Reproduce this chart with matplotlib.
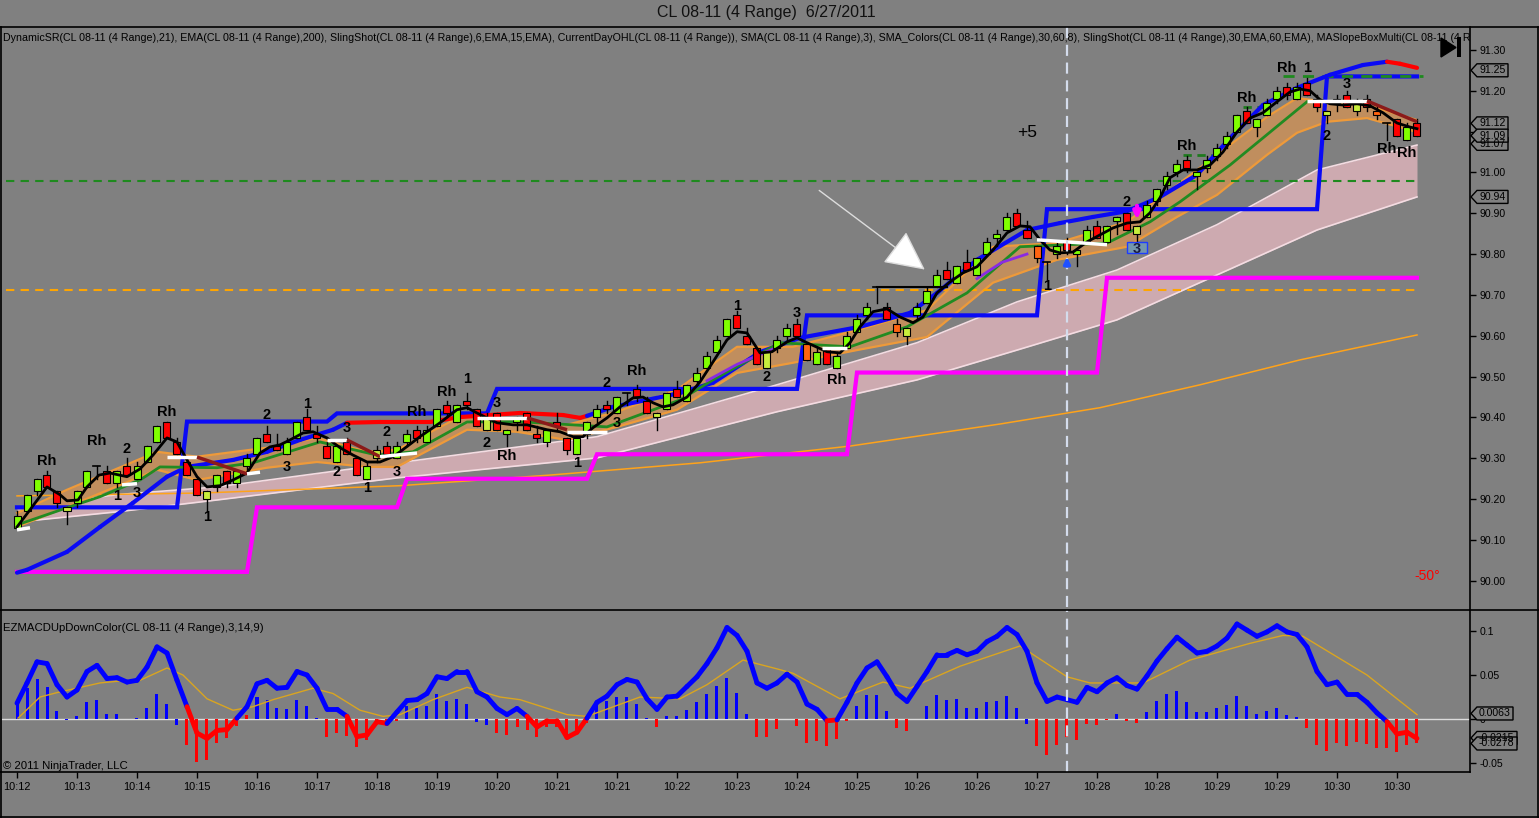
import numpy as np
import matplotlib
matplotlib.use("Agg")
import matplotlib.pyplot as plt
from matplotlib.patches import Rectangle, Polygon
from matplotlib.lines import Line2D
from matplotlib.transforms import blended_transform_factory

plt.rcParams['font.family'] = ['Liberation Sans', 'DejaVu Sans']

# ---------------------------------------------------------------- data
title = "CL 08-11 (4 Range)  6/27/2011"
top_label = ("DynamicSR(CL 08-11 (4 Range),21), EMA(CL 08-11 (4 Range),200), "
             "SlingShot(CL 08-11 (4 Range),6,EMA,15,EMA), CurrentDayOHL(CL 08-11 (4 Range)), "
             "SMA(CL 08-11 (4 Range),3), SMA_Colors(CL 08-11 (4 Range),30,60,8), "
             "SlingShot(CL 08-11 (4 Range),30,EMA,60,EMA), MASlopeBoxMulti(CL 08-11 (4 Range))")
macd_label = "EZMACDUpDownColor(CL 08-11 (4 Range),3,14,9)"
copyright_label = "\u00a9 2011 NinjaTrader, LLC"

xtick_bars = [0, 6, 12, 18, 24, 30, 36, 42, 48, 54, 60, 66, 72, 78, 84, 90, 96, 102,
              108, 114, 120, 126, 132, 138]
xtick_labels = ['10:12', '10:13', '10:14', '10:15', '10:16', '10:17', '10:18', '10:19',
                '10:20', '10:21', '10:21', '10:22', '10:23', '10:24', '10:25', '10:26',
                '10:26', '10:27', '10:28', '10:28', '10:29', '10:29', '10:30', '10:30']
price_ticks = [90.00, 90.10, 90.20, 90.30, 90.40, 90.50, 90.60, 90.70, 90.80, 90.90,
               91.00, 91.10, 91.20, 91.30]
macd_ticks = [-0.05, 0.0, 0.05, 0.1]
macd_tick_labels = ['-0.05', '0', '0.05', '0.1']

# candle kind: G up, R down, Y yellow-green, O orange, D doji
candle_kind = ("GGGRRYGGDR" "GRGGGRRRRY" "GRGGGRRGGR" "RRGRRGYRGG" "RGGRGRRYRG"
               "GRRGRRGGGR" "GDRRYGRGGG" "GGRRRYGGRO" "GRGGGGDROY" "GGGRGRGGGG"
               "RRODGRGGRG" "GRYGGGGRGG" "GGGRGGGRGR" "RYGRYRODRG" "R")
opens = [90.13, 90.17, 90.22, 90.26, 90.22, 90.17, 90.19, 90.23, 90.28, 90.27,
         90.24, 90.28, 90.25, 90.29, 90.34, 90.39, 90.34, 90.29, 90.25, 90.20,
         90.23, 90.27, 90.24, 90.28, 90.31, 90.36, 90.33, 90.31, 90.35, 90.40,
         90.36, 90.33, 90.29, 90.34, 90.30, 90.25, 90.30, 90.33, 90.30, 90.34,
         90.37, 90.34, 90.38, 90.43, 90.39, 90.44, 90.42, 90.37, 90.41, 90.36,
         90.39, 90.41, 90.36, 90.34, 90.39, 90.35, 90.31, 90.36, 90.40, 90.43,
         90.41, 90.46, 90.47, 90.44, 90.40, 90.42, 90.47, 90.44, 90.49, 90.52,
         90.56, 90.60, 90.65, 90.60, 90.57, 90.52, 90.57, 90.60, 90.63, 90.58,
         90.53, 90.57, 90.52, 90.57, 90.61, 90.65, 90.72, 90.67, 90.63, 90.60,
         90.65, 90.68, 90.72, 90.76, 90.73, 90.78, 90.75, 90.80, 90.84, 90.86,
         90.90, 90.86, 90.82, 90.78, 90.80, 90.83, 90.80, 90.83, 90.87, 90.83,
         90.88, 90.90, 90.85, 90.89, 90.93, 90.97, 91.00, 91.03, 90.99, 91.01,
         91.04, 91.07, 91.10, 91.15, 91.11, 91.14, 91.18, 91.21, 91.18, 91.22,
         91.18, 91.14, 91.17, 91.19, 91.15, 91.18, 91.15, 91.12, 91.13, 91.08,
         91.12]
closes = [90.16, 90.21, 90.25, 90.23, 90.19, 90.18, 90.22, 90.27, 90.28, 90.24,
          90.27, 90.26, 90.28, 90.33, 90.38, 90.35, 90.31, 90.26, 90.21, 90.22,
          90.26, 90.24, 90.27, 90.30, 90.35, 90.34, 90.32, 90.34, 90.39, 90.37,
          90.35, 90.30, 90.33, 90.31, 90.26, 90.28, 90.32, 90.31, 90.33, 90.36,
          90.35, 90.37, 90.42, 90.41, 90.43, 90.43, 90.38, 90.40, 90.37, 90.37,
          90.40, 90.37, 90.35, 90.37, 90.38, 90.32, 90.35, 90.39, 90.42, 90.42,
          90.45, 90.46, 90.45, 90.41, 90.41, 90.46, 90.45, 90.48, 90.51, 90.55,
          90.59, 90.64, 90.62, 90.58, 90.53, 90.56, 90.59, 90.62, 90.60, 90.54,
          90.56, 90.53, 90.55, 90.60, 90.64, 90.67, 90.72, 90.64, 90.61, 90.62,
          90.67, 90.71, 90.75, 90.74, 90.77, 90.76, 90.79, 90.83, 90.85, 90.89,
          90.87, 90.84, 90.79, 90.78, 90.82, 90.81, 90.81, 90.86, 90.84, 90.87,
          90.89, 90.86, 90.87, 90.92, 90.96, 90.99, 91.02, 91.01, 91.00, 91.03,
          91.06, 91.09, 91.14, 91.12, 91.13, 91.17, 91.20, 91.19, 91.21, 91.19,
          91.16, 91.15, 91.18, 91.16, 91.17, 91.16, 91.14, 91.12, 91.09, 91.11,
          91.09]
highs = [90.17, 90.21, 90.25, 90.27, 90.22, 90.18, 90.22, 90.27, 90.28, 90.28,
         90.27, 90.30, 90.29, 90.33, 90.38, 90.39, 90.35, 90.30, 90.25, 90.22,
         90.26, 90.27, 90.27, 90.31, 90.35, 90.38, 90.36, 90.35, 90.39, 90.42,
         90.38, 90.34, 90.33, 90.35, 90.30, 90.29, 90.33, 90.34, 90.34, 90.37,
         90.38, 90.38, 90.42, 90.44, 90.43, 90.46, 90.42, 90.41, 90.41, 90.37,
         90.40, 90.41, 90.38, 90.37, 90.41, 90.35, 90.35, 90.39, 90.43, 90.44,
         90.45, 90.46, 90.48, 90.45, 90.41, 90.46, 90.49, 90.48, 90.52, 90.56,
         90.60, 90.64, 90.66, 90.62, 90.57, 90.56, 90.60, 90.63, 90.64, 90.58,
         90.57, 90.57, 90.56, 90.61, 90.65, 90.68, 90.72, 90.68, 90.64, 90.62,
         90.68, 90.72, 90.76, 90.78, 90.77, 90.81, 90.79, 90.84, 90.86, 90.90,
         90.91, 90.88, 90.82, 90.78, 90.83, 90.84, 90.81, 90.87, 90.88, 90.87,
         90.89, 90.90, 90.87, 90.93, 90.96, 91.00, 91.03, 91.04, 91.00, 91.04,
         91.07, 91.10, 91.14, 91.16, 91.13, 91.18, 91.21, 91.22, 91.22, 91.23,
         91.19, 91.15, 91.19, 91.20, 91.18, 91.19, 91.16, 91.12, 91.13, 91.12,
         91.13]
lows = [90.13, 90.17, 90.21, 90.23, 90.18, 90.14, 90.18, 90.23, 90.25, 90.24,
        90.23, 90.26, 90.25, 90.29, 90.34, 90.35, 90.31, 90.26, 90.21, 90.17,
        90.22, 90.23, 90.23, 90.27, 90.31, 90.34, 90.32, 90.31, 90.35, 90.37,
        90.34, 90.30, 90.29, 90.31, 90.26, 90.25, 90.29, 90.30, 90.30, 90.33,
        90.34, 90.34, 90.38, 90.40, 90.39, 90.42, 90.38, 90.37, 90.37, 90.33,
        90.37, 90.37, 90.34, 90.33, 90.37, 90.31, 90.31, 90.35, 90.39, 90.41,
        90.41, 90.43, 90.44, 90.41, 90.37, 90.42, 90.45, 90.44, 90.48, 90.52,
        90.56, 90.60, 90.62, 90.58, 90.53, 90.52, 90.56, 90.59, 90.60, 90.54,
        90.53, 90.53, 90.52, 90.57, 90.61, 90.64, 90.68, 90.64, 90.60, 90.58,
        90.64, 90.68, 90.72, 90.74, 90.73, 90.76, 90.75, 90.80, 90.82, 90.86,
        90.87, 90.84, 90.78, 90.74, 90.79, 90.80, 90.77, 90.83, 90.84, 90.83,
        90.85, 90.86, 90.83, 90.89, 90.92, 90.96, 90.99, 91.00, 90.96, 91.00,
        91.03, 91.06, 91.10, 91.12, 91.09, 91.14, 91.17, 91.18, 91.18, 91.19,
        91.15, 91.12, 91.15, 91.16, 91.14, 91.15, 91.13, 91.08, 91.09, 91.08,
        91.09]

# DynamicSR step lines: first bar of each level, level
sr_low_start = [0, 24, 39, 58, 84, 109]
sr_low_level = [90.022, 90.18, 90.25, 90.31, 90.51, 90.742]
sr_high_start = [0, 17, 32, 48, 79, 103, 131]
sr_high_level = [90.18, 90.39, 90.41, 90.47, 90.65, 90.91, 91.235]

# slope coloured MA (thick blue / red)
ma_x = [0, 1, 5, 8.3, 11.6, 15, 17, 21.6, 25, 28.3,
        31.6, 33, 36.3, 41.3, 44.3, 50.3, 54.6, 56.3, 57, 59.6,
        63, 66.3, 69.6, 74.3, 78.3, 84.3, 89.3, 92, 96, 101,
        104.3, 107.6, 111, 114.3, 118, 121.3, 124.6, 128, 131.3, 134.6,
        137, 138.3, 140]
ma_y = [90.020, 90.027, 90.071, 90.132, 90.191, 90.255, 90.279, 90.296, 90.316, 90.345,
        90.370, 90.387, 90.389, 90.389, 90.401, 90.411, 90.406, 90.399, 90.404, 90.426,
        90.443, 90.460, 90.485, 90.560, 90.595, 90.622, 90.656, 90.705, 90.786, 90.859,
        90.876, 90.891, 90.905, 90.940, 90.994, 91.084, 91.165, 91.207, 91.239, 91.263,
        91.271, 91.266, 91.256]
ma_falling_ranges = [(33, 57), (137, 140)]

# SMA(3) black line
blk_x = [0, 1.3, 3, 4.3, 5, 6.1, 7, 8.2, 9.3, 11,
         12.3, 13.6, 15, 16, 17, 18, 19, 20.3, 21.6, 23,
         24.3, 25.3, 26.3, 27.3, 28.6, 29.6, 31, 32.3, 33.6, 35,
         36.3, 37.6, 38.3, 40.3, 42.3, 44, 45, 46, 47, 48,
         49.6, 51, 53, 54.3, 55.6, 56.6, 57.6, 59, 60.3, 61.6,
         62.6, 63.6, 64.6, 65.6, 67, 68.3, 69.6, 71, 72, 73,
         74.3, 75.5, 77, 78, 79, 81, 82.3, 83.3, 84.3, 85.6,
         87, 88.3, 89.6, 90.6, 92, 93.3, 94.6, 96, 97.6, 99,
         100.3, 101.3, 102.3, 103.3, 104.3, 105.6, 107, 108.3, 109.6, 111,
         112.3, 113.3, 114.3, 115.3, 116.6, 118, 119.3, 120.6, 122, 123.3,
         124.6, 126, 127.3, 128.3, 129.3, 130.3, 131.3, 132.6, 134, 135.3,
         136.6, 138, 139.3, 140]
blk_y = [90.132, 90.174, 90.230, 90.211, 90.196, 90.198, 90.230, 90.259, 90.264, 90.255,
         90.274, 90.308, 90.350, 90.340, 90.296, 90.255, 90.230, 90.233, 90.247, 90.264,
         90.313, 90.328, 90.333, 90.345, 90.362, 90.365, 90.350, 90.326, 90.308, 90.291,
         90.291, 90.304, 90.316, 90.353, 90.387, 90.419, 90.424, 90.411, 90.399, 90.387,
         90.382, 90.382, 90.370, 90.365, 90.353, 90.353, 90.375, 90.399, 90.426, 90.448,
         90.450, 90.436, 90.426, 90.431, 90.450, 90.487, 90.536, 90.590, 90.610, 90.607,
         90.558, 90.561, 90.585, 90.595, 90.583, 90.561, 90.558, 90.583, 90.622, 90.659,
         90.666, 90.646, 90.632, 90.646, 90.705, 90.732, 90.754, 90.769, 90.810, 90.852,
         90.869, 90.867, 90.835, 90.810, 90.803, 90.805, 90.830, 90.847, 90.864, 90.876,
         90.879, 90.901, 90.938, 90.987, 91.006, 91.006, 91.018, 91.050, 91.099, 91.133,
         91.146, 91.173, 91.197, 91.204, 91.200, 91.178, 91.168, 91.165, 91.168, 91.163,
         91.146, 91.121, 91.111, 91.107]

# SlingShot green EMA
grn_x = [0, 5, 8.3, 12.3, 14.3, 20, 23.6, 30.3, 36, 39.6, 45, 50, 59, 66.3, 69.6,
         76.3, 83.3, 89, 95, 100.3, 109, 113.3, 116.3, 121.3, 129]
grn_y = [90.137, 90.179, 90.206, 90.247, 90.279, 90.277, 90.289, 90.340, 90.308, 90.316,
         90.389, 90.390, 90.377, 90.443, 90.492, 90.583, 90.573, 90.622, 90.705, 90.818,
         90.827, 90.879, 90.928, 91.018, 91.173]

# SMA_Colors pieces (w = flat / white, r = falling / dark red)
slow_x0 = [0, 10.5, 15, 18, 23, 31, 33, 36.3, 46, 51, 55, 80.5, 102, 129, 135]
slow_x1 = [1.3, 12, 18, 23, 24.3, 33, 36.3, 40, 51, 55, 59, 83, 109, 135, 140]
slow_y0 = [90.125, 90.235, 90.303, 90.303, 90.262, 90.345, 90.345, 90.304, 90.399,
           90.399, 90.365, 90.570, 90.835, 91.175, 91.175]
slow_y1 = [90.130, 90.238, 90.303, 90.262, 90.266, 90.345, 90.304, 90.313, 90.399,
           90.370, 90.365, 90.570, 90.823, 91.175, 91.124]
slow_kind = ['w', 'w', 'w', 'r', 'w', 'w', 'r', 'w', 'w', 'r', 'w', 'w', 'w', 'w', 'r']

# purple pieces
pur1_x = [69, 72, 76.3]
pur1_y = [90.49, 90.53, 90.575]
pur2_x = [96, 98.5, 101]
pur2_y = [90.74, 90.78, 90.80]

# SlingShot(6/15) orange band
ob_x = [0, 5, 14, 18, 25, 30, 35, 38, 45, 50, 55, 60, 66, 72, 77.6, 84, 91, 97.6,
        104, 111, 116, 120, 125, 128, 131, 135, 140]
ob_hi = [90.166, 90.223, 90.316, 90.304, 90.326, 90.350, 90.316, 90.321, 90.411, 90.394,
         90.382, 90.414, 90.468, 90.573, 90.573, 90.614, 90.663, 90.818, 90.827, 90.879,
         90.969, 91.043, 91.136, 91.182, 91.173, 91.165, 91.128]
ob_lo = [90.132, 90.181, 90.272, 90.247, 90.277, 90.291, 90.279, 90.279, 90.370, 90.365,
         90.345, 90.377, 90.419, 90.509, 90.534, 90.565, 90.597, 90.730, 90.786, 90.818,
         90.891, 90.945, 91.043, 91.097, 91.124, 91.133, 91.099]

# SlingShot(30/60) pink band
pink_x = [0, 10, 20, 38, 58, 76, 90, 100, 110, 120, 130, 140]
pink_hi = [90.179, 90.211, 90.230, 90.289, 90.353, 90.480, 90.583, 90.683, 90.761,
           90.872, 91.006, 91.067]
pink_lo = [90.144, 90.169, 90.198, 90.252, 90.301, 90.414, 90.492, 90.565, 90.639,
           90.749, 90.859, 90.940]

# EMA(200)
ema_x = [0, 18.3, 38.3, 53.3, 68.3, 83.3, 98.3, 108.3, 118.3, 128.3, 140]
ema_y = [90.208, 90.215, 90.233, 90.259, 90.289, 90.330, 90.384, 90.424, 90.480,
         90.541, 90.602]

# horizontal levels
green_level = 90.98
orange_level = 90.712
day_high_level = 91.235
day_high_from = 126.6
swing_level = 90.72
swing_from, swing_to = 86, 93
short_dash_levels = [91.043, 91.160]
short_dash_from = [116.6, 122.6]
short_dash_to = [119.5, 125.3]
marker_bar = 105

# signal labels
lbl_text = ["Rh", "Rh", "2", "1", "3", "Rh", "1", "2", "1", "3", "3", "2", "1", "2", "3",
            "Rh", "Rh", "1", "3", "2", "Rh", "1", "3", "2", "Rh", "1", "2", "3", "Rh", "1",
            "2", "Rh", "Rh", "Rh", "1", "3", "2", "Rh", "Rh"]
lbl_bar = [3, 8, 11, 10, 12, 15, 19, 25, 29, 27, 33, 32, 35, 37, 38,
           40, 43, 45, 48, 47, 49, 56, 60, 59, 62, 72, 75, 78, 82, 103,
           111, 117, 123, 127, 129, 133, 131, 137, 139]
lbl_price = [90.294, 90.343, 90.323, 90.208, 90.215, 90.414, 90.157, 90.406, 90.433, 90.279,
             90.375, 90.267, 90.228, 90.365, 90.267, 90.414, 90.463, 90.494, 90.436, 90.338,
             90.306, 90.289, 90.387, 90.485, 90.514, 90.673, 90.499, 90.656, 90.492, 90.722,
             90.928, 91.065, 91.182, 91.256, 91.256, 91.217, 91.089, 91.058, 91.048]

price_boxes = [91.07, 91.12, 91.09, 91.25, 90.94]
macd_boxes = [-0.0215, -0.0278, 0.0063]

# MACD
macd = [0.018, 0.041, 0.065, 0.063, 0.039, 0.025, 0.033, 0.054, 0.061, 0.046,
        0.047, 0.042, 0.044, 0.059, 0.082, 0.075, 0.044, 0.014, -0.016, -0.022,
        -0.013, -0.012, 0.001, 0.014, 0.040, 0.044, 0.035, 0.036, 0.054, 0.050,
        0.035, 0.011, 0.011, 0.003, -0.020, -0.018, -0.003, -0.005, 0.008, 0.021,
        0.022, 0.029, 0.048, 0.046, 0.054, 0.054, 0.031, 0.025, 0.012, 0.005,
        0.012, 0.003, -0.009, -0.002, -0.002, -0.021, -0.015, 0.001, 0.019, 0.026,
        0.039, 0.045, 0.042, 0.023, 0.011, 0.025, 0.026, 0.037, 0.048, 0.063,
        0.081, 0.104, 0.095, 0.077, 0.041, 0.035, 0.041, 0.051, 0.042, 0.017,
        0.011, -0.002, -0.001, 0.019, 0.041, 0.058, 0.065, 0.048, 0.029, 0.020,
        0.037, 0.054, 0.073, 0.073, 0.078, 0.073, 0.077, 0.088, 0.094, 0.104,
        0.096, 0.077, 0.041, 0.020, 0.025, 0.022, 0.019, 0.036, 0.031, 0.041,
        0.047, 0.038, 0.034, 0.049, 0.066, 0.080, 0.093, 0.084, 0.075, 0.077,
        0.083, 0.092, 0.108, 0.101, 0.094, 0.099, 0.106, 0.099, 0.096, 0.082,
        0.054, 0.039, 0.042, 0.028, 0.028, 0.019, 0.007, -0.003, -0.017, -0.015,
        -0.022]
hist = [0.018, 0.035, 0.046, 0.036, 0.009, -0.001, 0.004, 0.019, 0.022, 0.006,
        0.006, 0.000, 0.001, 0.013, 0.028, 0.017, -0.007, -0.030, -0.049, -0.047,
        -0.027, -0.022, -0.008, 0.005, 0.025, 0.022, 0.012, 0.011, 0.022, 0.015,
        0.001, -0.020, -0.016, -0.019, -0.032, -0.024, -0.006, -0.008, -0.002, 0.015,
        0.012, 0.015, 0.028, 0.021, 0.023, 0.017, -0.003, -0.007, -0.016, -0.018,
        -0.009, -0.013, -0.020, -0.009, -0.009, -0.020, -0.016, -0.005, 0.018, 0.020,
        0.025, 0.025, 0.017, 0.001, -0.009, 0.004, 0.004, 0.010, 0.019, 0.029,
        0.038, 0.047, 0.030, 0.006, -0.020, -0.020, -0.011, 0.000, -0.008, -0.027,
        -0.025, -0.031, -0.023, -0.002, 0.015, 0.027, 0.027, 0.009, -0.010, -0.014,
        0.000, 0.015, 0.027, 0.022, 0.023, 0.012, 0.013, 0.019, 0.020, 0.026,
        0.013, -0.006, -0.031, -0.041, -0.029, -0.020, -0.024, -0.006, -0.007, -0.001,
        0.006, -0.002, -0.004, 0.008, 0.020, 0.028, 0.032, 0.019, 0.008, 0.008,
        0.012, 0.016, 0.026, 0.015, 0.006, 0.009, 0.013, 0.005, 0.002, -0.010,
        -0.029, -0.036, -0.027, -0.031, -0.026, -0.028, -0.033, -0.033, -0.038, -0.029,
        -0.027]
hist_color_flip = [5, 16, 23, 46, 47, 101]
sig_x = [0.1, 2.3, 4, 8.3, 11, 12.3, 15, 16.6, 19, 21.6,
         23.6, 25.6, 29.6, 31.6, 34.3, 36.6, 38.3, 41.6, 45, 48.3,
         50.3, 55, 57, 62.3, 66.3, 69, 72.6, 76, 77.6, 82.3,
         86.6, 89.3, 94.3, 100.3, 105, 107.3, 112.6, 117.3, 123.3, 126.6,
         128.6, 135, 140]
sig_v = [0.001, 0.025, 0.030, 0.041, 0.044, 0.044, 0.058, 0.050, 0.023, 0.010,
         0.014, 0.022, 0.035, 0.029, 0.010, 0.003, 0.005, 0.022, 0.036, 0.025,
         0.022, 0.005, 0.003, 0.025, 0.023, 0.039, 0.067, 0.057, 0.052, 0.023,
         0.042, 0.035, 0.060, 0.083, 0.048, 0.041, 0.041, 0.067, 0.086, 0.095,
         0.094, 0.050, 0.005]

# ---------------------------------------------------------------- figure
W, H = 1539, 818
BG = '#808080'
TICK_FS = 7.6
fig = plt.figure(figsize=(W / 100, H / 100), dpi=100, facecolor=BG)


def fx(p):
    return p / W


def fy(p):
    return 1 - p / H


ax = fig.add_axes([fx(2), fy(607), fx(1470) - fx(2), fy(27) - fy(607)], facecolor=BG)
ax2 = fig.add_axes([fx(2), fy(772), fx(1470) - fx(2), fy(610) - fy(772)], facecolor=BG)
for a in (ax, ax2):
    a.set_xlim(-1.5, 145.3)
    for s in a.spines.values():
        s.set_visible(False)
ax.set_ylim(89.936, 91.356)
ax2.set_ylim(-0.0602, 0.1239)

n = len(opens)
bars = np.arange(n)

# bands
ax.fill_between(pink_x, pink_lo, pink_hi, color='#CDAAB0', lw=0, zorder=1)
ax.plot(pink_x, pink_hi, color='#F4DCE2', lw=1.2, zorder=1.1)
ax.plot(pink_x, pink_lo, color='#F4DCE2', lw=1.2, zorder=1.1)
ax.plot(ema_x, ema_y, color='#FFA31A', lw=1.1, zorder=1.5)
ax.fill_between(ob_x, ob_lo, ob_hi, color='#C08E5E', lw=0, zorder=2)
ax.plot(ob_x, ob_hi, color='#EE9A3A', lw=1.6, zorder=2.1)
ax.plot(ob_x, ob_lo, color='#EE9A3A', lw=1.6, zorder=2.1)

# horizontal dashed levels
ax.axhline(green_level, xmin=0.003, xmax=0.965, color='#1E8A1E', lw=1.5,
           dashes=(4, 3), zorder=2.5)
ax.axhline(orange_level, xmin=0.003, xmax=0.965, color='#FFA500', lw=1.5,
           dashes=(4, 3), zorder=2.5)

# step lines
sr_low = np.zeros(n)
for k, b in enumerate(sr_low_start):
    sr_low[b:] = sr_low_level[k]
sr_high = np.zeros(n)
for k, b in enumerate(sr_high_start):
    sr_high[b:] = sr_high_level[k]
ax.plot(bars, sr_low, color='#FF00FF', lw=3, zorder=3, solid_joinstyle='miter')
ax.plot(bars, sr_high, color='#0A0AF5', lw=3, zorder=3, solid_joinstyle='miter')
ax.plot([day_high_from, n - 0.4], [day_high_level] * 2, color='#1E8A1E', lw=2,
        dashes=(4, 3), zorder=3.2)
for lv, a0, a1 in zip(short_dash_levels, short_dash_from, short_dash_to):
    ax.plot([a0, a1], [lv, lv], color='#1E7A1E', lw=2, dashes=(3, 2), zorder=3.2)

# slope MA
for i in range(len(ma_x) - 1):
    x0, x1 = ma_x[i], ma_x[i + 1]
    falling = any(x0 >= a and x1 <= b for a, b in ma_falling_ranges)
    ax.plot([x0, x1], [ma_y[i], ma_y[i + 1]], color='#FF0000' if falling else '#0A0AF5',
            lw=3, solid_capstyle='round', zorder=3.5)

# green and purple
ax.plot(grn_x, grn_y, color='#228B22', lw=2, zorder=4)
ax.plot(pur1_x, pur1_y, color='#8A2BE2', lw=2, zorder=4)
ax.plot(pur2_x, pur2_y, color='#8A2BE2', lw=2, zorder=4)

# candles
cmap = {'G': '#80FF00', 'R': '#FF0000', 'Y': '#C8EE3C', 'O': '#FF6410'}
for i in range(n):
    o, c, hi, lo, k = opens[i], closes[i], highs[i], lows[i], candle_kind[i]
    ax.plot([i, i], [lo, hi], color='black', lw=1, zorder=4.8)
    if k == 'D' or abs(c - o) < 1e-9:
        ax.plot([i - 0.35, i + 0.35], [o, o], color='black', lw=1.2, zorder=5)
    else:
        ax.add_patch(Rectangle((i - 0.35, min(o, c)), 0.7, abs(c - o), facecolor=cmap[k],
                               edgecolor='black', lw=0.8, zorder=5))

# swing line
ax.plot([swing_from, swing_to], [swing_level] * 2, color='black', lw=1.5, zorder=5.2)

# black SMA and coloured pieces
ax.plot(blk_x, blk_y, color='black', lw=2, zorder=6)
for x0, x1, y0, y1, k in zip(slow_x0, slow_x1, slow_y0, slow_y1, slow_kind):
    ax.plot([x0, x1], [y0, y1], color='white' if k == 'w' else '#8B1A1A', lw=2.5,
            solid_capstyle='butt', zorder=6.2)

# markers
ax.annotate('', xy=(marker_bar, 90.800), xytext=(marker_bar, 90.764),
            arrowprops=dict(arrowstyle='-|>', color='#1E50FF', lw=2.5, mutation_scale=9),
            zorder=7)
ax.annotate('', xy=(112, 90.878), xytext=(112, 90.925),
            arrowprops=dict(arrowstyle='-|>', color='#FF00FF', lw=3, mutation_scale=10),
            zorder=7)
ax.add_patch(Rectangle((111.0, 90.803), 2.0, 0.026, facecolor='#7396AE',
                       edgecolor='#1E3CFF', lw=1, zorder=7))
ax.text(112, 90.812, '3', ha='center', va='center', fontsize=10.5, fontweight='bold',
        color='#1A1A40', zorder=7.5)
ax.annotate('', xy=(91.0, 90.758), xytext=(80.0, 90.960),
            arrowprops=dict(arrowstyle='-|>,head_length=0.9,head_width=0.45',
                            facecolor='white', edgecolor='#DDDDDD', lw=1,
                            mutation_scale=28), zorder=7)

for t, b, p in zip(lbl_text, lbl_bar, lbl_price):
    ax.text(b, p, t, ha='center', va='center', fontsize=10.5, fontweight='bold',
            color='black', zorder=8)

ax.text(101, 91.097, '+5', ha='center', va='center', fontsize=12.5, color='black', zorder=8)
ax.text(141, 90.012, '-50\u00b0', ha='center', va='center', fontsize=10, color='#FF0000',
        zorder=8)

ax.text(1 / 1468, 1 - 11 / 580, top_label, transform=ax.transAxes, ha='left', va='center',
        fontsize=7.7, clip_on=True, zorder=9)

for a in (ax, ax2):
    a.axvline(marker_bar, color='#D4DCEC', lw=1.6, dashes=(5, 3), zorder=6.5)

# axis ticks
ax.yaxis.tick_right()
ax.set_yticks(price_ticks)
ax.set_yticklabels(['%.2f' % v for v in price_ticks])
ax.tick_params(axis='y', direction='out', length=4, width=1, color='black',
               labelsize=TICK_FS, pad=3)
ax.tick_params(axis='x', bottom=False, labelbottom=False)

# MACD panel
ax2.axhline(0, color='#DCDCDC', lw=1, zorder=1)
hcols = []
for i, v in enumerate(hist):
    pos = v >= 0
    if i in hist_color_flip:
        pos = not pos
    hcols.append('#0000FF' if pos else '#FF0000')
ax2.bar(bars, hist, width=0.3, color=hcols, zorder=2)
ax2.plot(sig_x, sig_v, color='#DAA520', lw=1, zorder=3)
for i in range(n - 1):
    neg = (macd[i] + macd[i + 1]) / 2 < 0
    ax2.plot([i, i + 1], [macd[i], macd[i + 1]], color='#FF0000' if neg else '#0000FF',
             lw=3.5, solid_capstyle='round', zorder=4)
ax2.text(1 / 1468, 1 - 18 / 162, macd_label, transform=ax2.transAxes, ha='left',
         va='center', fontsize=8.2, zorder=9)
ax2.text(1 / 1468, 1 - 156 / 162, copyright_label, transform=ax2.transAxes, ha='left',
         va='center', fontsize=8.2, zorder=9)
ax2.yaxis.tick_right()
ax2.set_yticks(macd_ticks)
ax2.set_yticklabels(macd_tick_labels)
ax2.tick_params(axis='y', direction='out', length=4, width=1, color='black',
                labelsize=TICK_FS, pad=3)
ax2.set_xticks(xtick_bars)
ax2.set_xticklabels(xtick_labels)
ax2.tick_params(axis='x', direction='out', length=4, width=1, color='black',
                labelsize=TICK_FS + 0.3, pad=3)


# value boxes on the right axis
def value_box(axis, v, s, ppu, right):
    tr = blended_transform_factory(fig.transFigure, axis.transData)
    hh = 6.5 / ppu
    xs = [1471, 1477, right, right, 1477]
    ys = [v, v + hh, v + hh, v - hh, v - hh]
    fig.add_artist(Polygon(list(zip([fx(x) for x in xs], ys)), closed=True, transform=tr,
                           facecolor=BG, edgecolor='black', lw=1, zorder=20))
    fig.text(fx(1479), v, s, transform=tr, ha='left', va='center', fontsize=TICK_FS,
             zorder=21)


for v in price_boxes:
    value_box(ax, v, '%.2f' % v, 408.5, 1508)
for v in macd_boxes:
    value_box(ax2, v, '%.4f' % v, 880.0, 1517 if v < 0 else 1513)

# frame lines
def fline(x0, y0, x1, y1):
    fig.add_artist(Line2D([fx(x0), fx(x1)], [fy(y0), fy(y1)], color='black', lw=1.2,
                          transform=fig.transFigure, zorder=30))


fline(0, 27, W, 27)
fline(0, 609.5, W, 609.5)
fline(0, 772, 1470, 772)
fline(1470, 27, 1470, 772)
fline(1, 27, 1, 817)
fline(1537.5, 27, 1537.5, 817)
fline(0, 816.5, W, 816.5)

# play-to-end icon
fig.add_artist(Polygon([(fx(1441), fy(38)), (fx(1441), fy(57)), (fx(1456), fy(47.5))],
                       closed=True, transform=fig.transFigure, facecolor='black',
                       edgecolor='black', zorder=30))
fig.add_artist(Rectangle((fx(1457), fy(57)), fx(4), fy(37) - fy(57),
                         transform=fig.transFigure, facecolor='black', zorder=30))

fig.text(fx(766), fy(13), title, ha='center', va='center', fontsize=11.5, color='#111111')

fig.savefig('out.png', dpi=100, facecolor=BG)
